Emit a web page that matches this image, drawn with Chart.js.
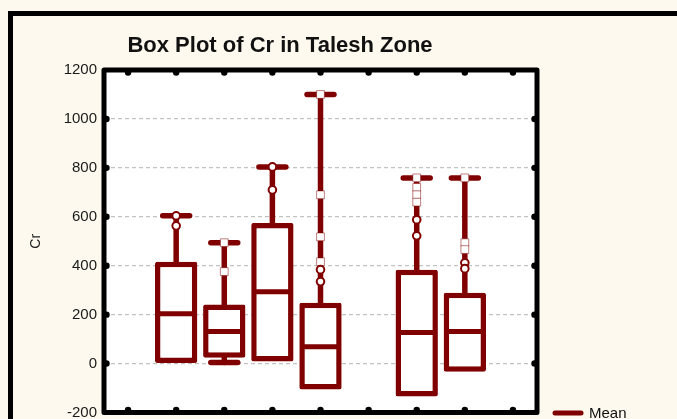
<!DOCTYPE html>
<html>
<head>
<meta charset="utf-8">
<script src="https://cdn.jsdelivr.net/npm/chart.js@4.4.1/dist/chart.umd.min.js"></script>
<style>
  html, body { margin: 0; padding: 0; background: #fdf9ee; }
  #wrap { width: 677px; height: 419px; position: relative; }
</style>
</head>
<body>
<div id="wrap"><canvas id="c"></canvas></div>
<script>
// ─── データ ──────────────────────────────────────
const categories = ['G1', 'G2', 'G3', 'G4', 'G5', 'G6', 'G7', 'G8', 'G9'];
const boxLow    = [null, 0, 24, 8, -106, null, -135, -33, null];
const boxHigh   = [null, 416, 241, 575, 249, null, 384, 290, null];
const means     = [null, 204, 131, 294, 69, null, 127, 131, null];
const whiskLow  = [null, 0, 4, 8, -106, null, -135, -33, null];
const whiskHigh = [null, 604, 494, 804, 1100, null, 759, 759, null];

// circles (outliers)
const outlierCat = ['G2', 'G2', 'G4', 'G4', 'G5', 'G5', 'G7', 'G7', 'G8', 'G8'];
const outlierVal = [604, 563, 804, 710, 384, 335, 588, 522, 412, 388];
// squares (extremes)
const extremeCat = ['G3', 'G3', 'G5', 'G5', 'G5', 'G5', 'G7', 'G7', 'G7', 'G7', 'G8', 'G8', 'G8'];
const extremeVal = [494, 376, 1100, 690, 518, 416, 759, 720, 690, 660, 759, 494, 466];

const yMin = -200, yMax = 1200, yStep = 200;

const RED  = '#800000';
const FONT = "'Liberation Sans', Arial, sans-serif";

// ─── 箱ひげ描画プラグイン ────────────────────────────
const boxParts = {
  id: 'boxParts',
  beforeDraw(chart) {
    const { ctx, chartArea: a } = chart;
    ctx.save();
    ctx.fillStyle = '#fdf9ee';
    ctx.fillRect(0, 0, chart.width, chart.height);
    ctx.fillStyle = '#ffffff';
    ctx.fillRect(a.left, a.top, a.right - a.left, a.bottom - a.top);
    ctx.strokeStyle = '#000';
    ctx.lineWidth = 5;
    ctx.strokeRect(10.5, 13.5, chart.width + 50, chart.height + 50);
    ctx.restore();
  },
  beforeDatasetsDraw(chart) {
    const { ctx } = chart;
    const xs = chart.scales.x, ys = chart.scales.y;
    const cw = xs.getPixelForValue(1) - xs.getPixelForValue(0);
    ctx.save();
    ctx.strokeStyle = RED;
    ctx.lineCap = 'round';
    categories.forEach((c, i) => {
      if (boxHigh[i] == null) return;
      const x = xs.getPixelForValue(i);
      const caps = [whiskHigh[i]];
      ctx.lineWidth = 5.5;
      ctx.beginPath();
      ctx.moveTo(x, ys.getPixelForValue(boxHigh[i]));
      ctx.lineTo(x, ys.getPixelForValue(whiskHigh[i]));
      if (whiskLow[i] < boxLow[i]) {
        ctx.moveTo(x, ys.getPixelForValue(boxLow[i]));
        ctx.lineTo(x, ys.getPixelForValue(whiskLow[i]));
        caps.push(whiskLow[i]);
      }
      ctx.stroke();
      const half = cw * 0.28;
      caps.forEach(v => {
        const y = ys.getPixelForValue(v);
        ctx.beginPath();
        ctx.moveTo(x - half, y);
        ctx.lineTo(x + half, y);
        ctx.stroke();
      });
    });
    ctx.restore();
  },
  afterDatasetDraw(chart, args) {
    if (args.meta.type !== 'bar') return;
    const { ctx } = chart;
    const ys = chart.scales.y;
    ctx.save();
    ctx.strokeStyle = RED;
    ctx.lineWidth = 5;
    args.meta.data.forEach((bar, i) => {
      if (means[i] == null) return;
      const y = ys.getPixelForValue(means[i]);
      ctx.beginPath();
      ctx.moveTo(bar.x - bar.width / 2 + 2, y);
      ctx.lineTo(bar.x + bar.width / 2 - 2, y);
      ctx.stroke();
    });
    ctx.restore();
  },
  afterDraw(chart) {
    const { ctx, chartArea: a } = chart;
    const xs = chart.scales.x, ys = chart.scales.y;
    ctx.save();
    // plot frame
    ctx.strokeStyle = '#000';
    ctx.lineWidth = 5;
    ctx.lineJoin = 'round';
    ctx.strokeRect(a.left, a.top, a.right - a.left, a.bottom - a.top);
    // tick dots
    ctx.fillStyle = '#000';
    const dot = (x, y) => { ctx.beginPath(); ctx.arc(x, y, 3.2, 0, Math.PI * 2); ctx.fill(); };
    categories.forEach((c, i) => {
      const x = xs.getPixelForValue(i);
      dot(x, a.top + 2.5);
      dot(x, a.bottom - 2.5);
    });
    for (let v = yMin + yStep; v < yMax; v += yStep) {
      const y = ys.getPixelForValue(v);
      dot(a.left + 2.5, y);
      dot(a.right - 2.5, y);
    }
    // title
    ctx.fillStyle = '#111';
    ctx.font = 'bold 22px ' + FONT;
    ctx.textAlign = 'center';
    ctx.textBaseline = 'middle';
    ctx.fillText('Box Plot of Cr in Talesh Zone', 280, 46);
    // legend
    ctx.strokeStyle = RED;
    ctx.lineWidth = 5;
    ctx.lineCap = 'round';
    ctx.beginPath();
    ctx.moveTo(555, 413);
    ctx.lineTo(581, 413);
    ctx.stroke();
    ctx.font = '15px ' + FONT;
    ctx.textAlign = 'left';
    ctx.fillText(chart.data.datasets[2].label, 589, 414);
    ctx.restore();
  },
};

new Chart(document.getElementById('c'), {
  type: 'bar',
  data: {
    labels: categories,
    datasets: [
      {
        type: 'scatter', label: 'Outliers', order: 0,
        data: outlierCat.map((c, i) => ({ x: c, y: outlierVal[i] })),
        pointStyle: 'circle', pointRadius: 3.8, borderWidth: 2,
        backgroundColor: '#fff', borderColor: RED,
      },
      {
        type: 'scatter', label: 'Extremes', order: 1,
        data: extremeCat.map((c, i) => ({ x: c, y: extremeVal[i] })),
        pointStyle: 'rect', pointRadius: 5.5, borderWidth: 1,
        backgroundColor: '#fff', borderColor: 'rgba(128,0,0,0.5)',
      },
      {
        type: 'bar', label: 'Mean', order: 2,
        data: boxLow.map((v, i) => v == null ? null : [v, boxHigh[i]]),
        backgroundColor: '#fff', borderColor: RED, borderWidth: 5.5,
        borderSkipped: false, borderRadius: 2,
        barPercentage: 0.88, categoryPercentage: 1,
      },
    ],
  },
  options: {
    responsive: true,
    maintainAspectRatio: false,
    animation: false,
    devicePixelRatio: 1,
    layout: { padding: { left: 20, right: 140, top: 70, bottom: 6 } },
    plugins: {
      legend: { display: false },
      tooltip: { enabled: false },
      title: { display: false },
    },
    scales: {
      x: {
        type: 'category', offset: true,
        ticks: { display: false },
        grid: { display: false, drawTicks: false },
        border: { display: false },
        afterFit(s) { s.height = 0; s.paddingLeft = 0; s.paddingRight = 0; },
      },
      y: {
        min: yMin, max: yMax,
        ticks: {
          stepSize: yStep, color: '#1a1a1a', font: { size: 15, family: FONT }, padding: 7,
          callback: v => String(v),
        },
        grid: { color: '#c2c2c2', lineWidth: 1.2, drawTicks: false },
        border: { display: false, dash: [4, 3] },
        title: { display: true, text: 'Cr', color: '#1a1a1a', font: { size: 14, family: FONT }, padding: { top: 8, bottom: 0 } },
        afterFit(s) { s.width = 84; s.paddingTop = 0; s.paddingBottom = 0; },
      },
    },
  },
  plugins: [boxParts],
});
</script>
</body>
</html>
